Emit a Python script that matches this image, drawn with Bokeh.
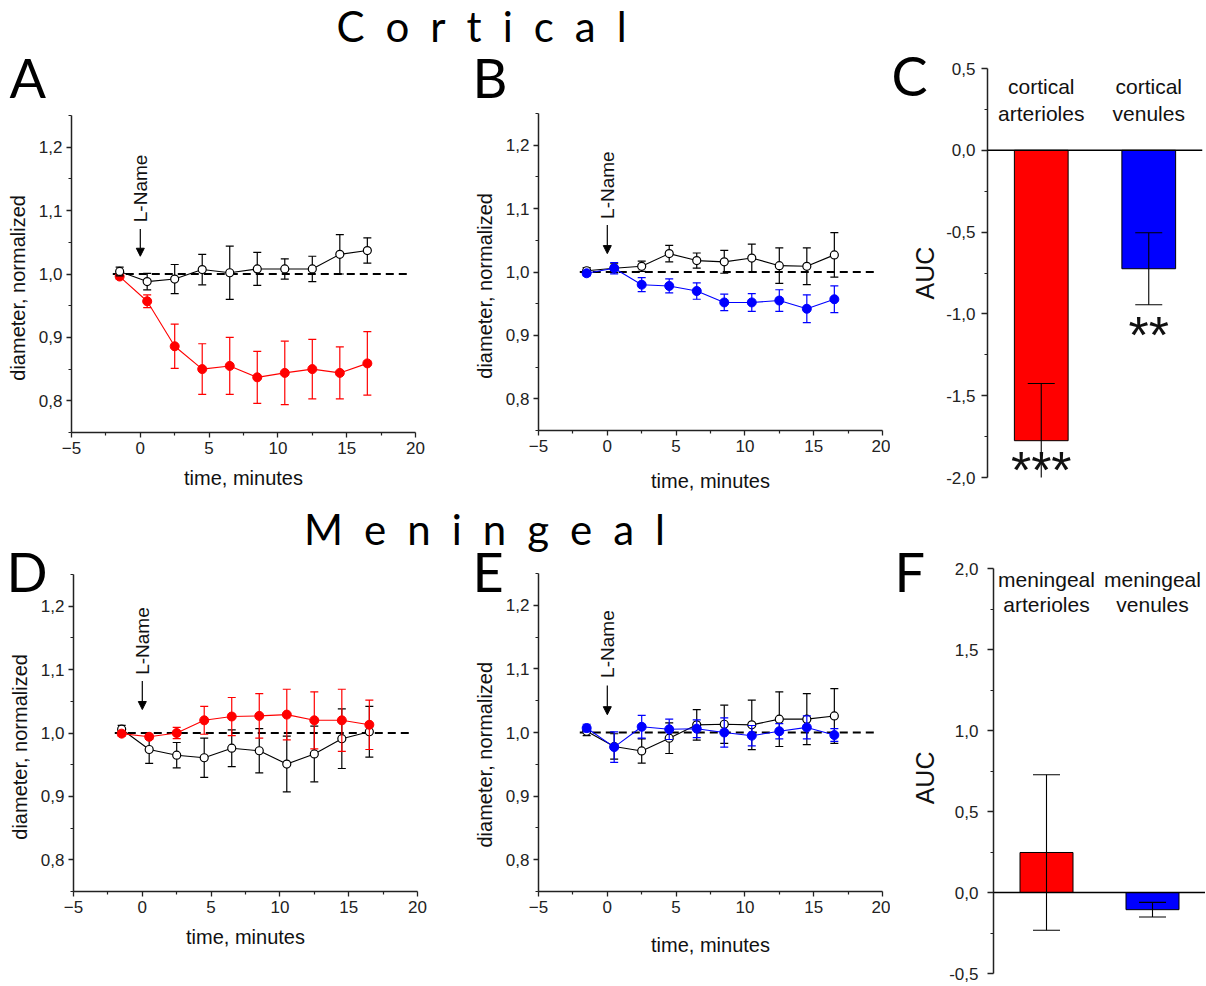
from bokeh.plotting import figure
from bokeh.models import (Range1d, Arrow, NormalHead, Span, FixedTicker,
                          CustomJSTickFormatter, GridBox)
from bokeh.layouts import column, row
from bokeh.embed import file_html
from bokeh.resources import INLINE
from bokeh.core.properties import value

# ---------------- data ----------------
time = [-1.5, 0.5, 2.5, 4.5, 6.5, 8.5, 10.5, 12.5, 14.5, 16.5]

A_ctrl = [1.004, 0.988, 0.992, 1.007, 1.002, 1.008, 1.008, 1.008, 1.031, 1.037]
A_ctrl_err = [0.007, 0.013, 0.023, 0.024, 0.042, 0.026, 0.016, 0.020, 0.031, 0.020]
A_lname = [0.996, 0.957, 0.886, 0.850, 0.855, 0.837, 0.844, 0.850, 0.844, 0.859]
A_lname_err = [0.004, 0.010, 0.035, 0.040, 0.045, 0.041, 0.050, 0.047, 0.041, 0.050]

B_ctrl = [1.002, 1.006, 1.009, 1.029, 1.018, 1.016, 1.022, 1.010, 1.009, 1.027]
B_ctrl_err = [0.005, 0.007, 0.008, 0.013, 0.012, 0.018, 0.022, 0.028, 0.029, 0.035]
B_lname = [0.998, 1.006, 0.980, 0.978, 0.970, 0.952, 0.952, 0.955, 0.942, 0.957]
B_lname_err = [0.004, 0.009, 0.011, 0.011, 0.013, 0.013, 0.014, 0.017, 0.022, 0.021]

D_ctrl = [1.006, 0.974, 0.965, 0.961, 0.976, 0.972, 0.951, 0.967, 0.991, 1.002]
D_ctrl_err = [0.006, 0.022, 0.020, 0.031, 0.029, 0.035, 0.044, 0.044, 0.047, 0.040]
D_lname = [0.999, 0.994, 1.000, 1.020, 1.026, 1.027, 1.029, 1.020, 1.020, 1.013]
D_lname_err = [0.004, 0.004, 0.009, 0.022, 0.030, 0.035, 0.040, 0.045, 0.049, 0.039]

E_ctrl = [1.002, 0.978, 0.971, 0.991, 1.012, 1.013, 1.012, 1.021, 1.021, 1.026]
E_ctrl_err = [0.007, 0.020, 0.019, 0.024, 0.024, 0.030, 0.039, 0.043, 0.040, 0.043]
E_lname = [1.007, 0.977, 1.009, 1.005, 1.006, 1.000, 0.995, 1.002, 1.008, 0.996]
E_lname_err = [0.006, 0.024, 0.018, 0.016, 0.014, 0.023, 0.016, 0.012, 0.018, 0.010]

bar_x = [1, 2]
C_label_top = ["cortical", "cortical"]
C_label_bottom = ["arterioles", "venules"]
C_auc = [-1.775, -0.724]
C_err = [0.35, 0.22]
C_stars = ["***", "**"]

F_label_top = ["meningeal", "meningeal"]
F_label_bottom = ["arterioles", "venules"]
F_auc = [0.247, -0.106]
F_err = [0.48, 0.045]

bar_colors = ["#FF0000", "#0000FF"]

section_titles = ["Cortical", "Meningeal"]
panel_letters = ["A", "B", "C", "D", "E", "F"]

time_ticks = [-5, 0, 5, 10, 15, 20]
time_minor = [-2.5, 2.5, 7.5, 12.5, 17.5]
diam_ticks = [0.8, 0.9, 1.0, 1.1, 1.2]
diam_minor = [0.75, 0.85, 0.95, 1.05, 1.15, 1.25]
C_ticks = [0.5, 0.0, -0.5, -1.0, -1.5, -2.0]
C_minor = [0.25, -0.25, -0.75, -1.25, -1.75]
F_ticks = [-0.5, 0.0, 0.5, 1.0, 1.5, 2.0]
F_minor = [-0.25, 0.25, 0.75, 1.25, 1.75]

# ---------------- layout / style constants ----------------
PAGE_W, PAGE_H = 1205, 985
FONT = "Liberation Sans"
LETTER_FONT = "Lato"
TICK_SIZE = "17px"
AXIS_LABEL_SIZE = "20px"
NB = "\u00a0"
comma_fmt = CustomJSTickFormatter(code="return tick.toFixed(1).replace('.', ',');")


def style_axis(ax, label_standoff):
    ax.axis_line_color = "#222222"
    ax.axis_line_width = 1.5
    ax.major_tick_line_color = "#222222"
    ax.minor_tick_line_color = "#222222"
    ax.major_tick_line_width = 1.3
    ax.minor_tick_line_width = 1.2
    ax.major_tick_out = 5
    ax.major_tick_in = 0
    ax.minor_tick_out = 3
    ax.minor_tick_in = 0
    ax.major_label_text_font = FONT
    ax.major_label_text_font_size = TICK_SIZE
    ax.major_label_text_color = "#222222"
    ax.major_label_standoff = 4
    ax.axis_label_text_font = FONT
    ax.axis_label_text_font_size = AXIS_LABEL_SIZE
    ax.axis_label_text_font_style = "normal"
    ax.axis_label_text_color = "#111111"
    ax.axis_label_standoff = label_standoff


def base_fig(w, h, bl, br, bt, bb, xr, yr, **kw):
    p = figure(width=w, height=h, x_range=xr, y_range=yr,
               output_backend="svg", toolbar_location=None,
               min_border_left=bl, min_border_right=br,
               min_border_top=bt, min_border_bottom=bb,
               frame_align=False, **kw)
    p.outline_line_color = None
    p.background_fill_color = "white"
    p.border_fill_color = "white"
    return p


def series(p, y, err, color, filled):
    lower = [v - e for v, e in zip(y, err)]
    upper = [v + e for v, e in zip(y, err)]
    p.segment(x0=time, y0=lower, x1=time, y1=upper, line_color=color, line_width=1.2)
    p.scatter(time, upper, marker="dash", size=8, line_color=color, line_width=1.2)
    p.scatter(time, lower, marker="dash", size=8, line_color=color, line_width=1.2)
    p.line(time, y, line_color=color, line_width=1.1)
    if filled:
        p.scatter(time, y, marker="circle", size=9, fill_color=color, line_color=color)
    else:
        p.scatter(time, y, marker="circle", size=8, fill_color="white",
                  line_color="black", line_width=1.2)


def ts_panel(w, h, bl, br, bt, bb, ctrl, ctrl_err, ln, ln_err, color, xstand,
             lname_y, arrow_top, arrow_tip, first_filled, label_pad):
    p = base_fig(w, h, bl, br, bt, bb, Range1d(-5, 20), Range1d(0.75, 1.25))
    p.xgrid.visible = False
    p.ygrid.visible = False
    p.xaxis.ticker = FixedTicker(ticks=time_ticks, minor_ticks=time_minor)
    p.yaxis.ticker = FixedTicker(ticks=diam_ticks, minor_ticks=diam_minor)
    p.yaxis.formatter = comma_fmt
    p.xaxis.axis_label = "time, minutes"
    p.yaxis.axis_label = "diameter, normalized" + NB * label_pad
    style_axis(p.xaxis[0], xstand)
    style_axis(p.yaxis[0], 7)
    p.line([-2.0, 19.5], [1.0, 1.0], line_color="black", line_width=2, line_dash="8 5")
    if first_filled:
        series(p, ln, ln_err, color, True)
        series(p, ctrl, ctrl_err, "black", False)
    else:
        series(p, ctrl, ctrl_err, "black", False)
        series(p, ln, ln_err, color, True)
    p.add_layout(Arrow(end=NormalHead(size=8, fill_color="black", line_color="black"),
                       x_start=0, y_start=arrow_top, x_end=0, y_end=arrow_tip,
                       line_width=1.2, line_color="black"))
    p.text(x=[0], y=[lname_y], text=["L-Name"], angle=1.5708,
           text_font=value(FONT), text_font_size="19px", text_align="center",
           text_baseline="middle", text_color="#111111")
    return p


def bar_panel(w, h, bl, br, bt, bb, yr, ticks, minor, auc, err, top_lbl, bot_lbl,
              top_y, bot_y, tick_stand, lab_stand, label_pad):
    p = base_fig(w, h, bl, br, bt, bb, Range1d(0.5, 2.5), yr, x_axis_type=None)
    p.ygrid.visible = False
    p.yaxis.ticker = FixedTicker(ticks=ticks, minor_ticks=minor)
    p.yaxis.formatter = comma_fmt
    p.yaxis.axis_label = "AUC" + NB * label_pad
    style_axis(p.yaxis[0], lab_stand)
    p.yaxis.major_tick_out = 6
    p.yaxis.major_label_standoff = tick_stand
    p.yaxis.axis_label_text_font_size = "25px"
    p.vbar(x=bar_x, top=auc, bottom=0, width=0.5, fill_color=bar_colors,
           line_color="black", line_width=1)
    p.add_layout(Span(location=0, dimension="width", line_color="black", line_width=1.5))
    lower = [v - e for v, e in zip(auc, err)]
    upper = [v + e for v, e in zip(auc, err)]
    p.segment(x0=bar_x, y0=lower, x1=bar_x, y1=upper, line_color="black", line_width=1.1)
    p.scatter(bar_x, upper, marker="dash", size=27, line_color="black", line_width=1.1)
    p.scatter(bar_x, lower, marker="dash", size=27, line_color="black", line_width=1.1)
    p.text(x=bar_x, y=[top_y] * 2, text=top_lbl, text_font=value(FONT),
           text_font_size="21px", text_align="center", text_baseline="middle",
           text_color="#111111")
    p.text(x=bar_x, y=[bot_y] * 2, text=bot_lbl, text_font=value(FONT),
           text_font_size="21px", text_align="center", text_baseline="middle",
           text_color="#111111")
    return p


# ---------------- row 1 (y 0..505) ----------------
pA = ts_panel(470, 505, 71, 55, 115, 73, A_ctrl, A_ctrl_err, A_lname, A_lname_err,
              "#FF0000", 10, 1.135, 1.071, 1.028, True, 5)
pB = ts_panel(420, 505, 68, 8, 113, 75, B_ctrl, B_ctrl_err, B_lname, B_lname_err,
              "#0000FF", 15, 1.137, 1.074, 1.029, False, 5)
pC = bar_panel(315, 505, 97, 3, 68, 28, Range1d(-2.0, 0.5), C_ticks, C_minor,
               C_auc, C_err, C_label_top, C_label_bottom, 0.387, 0.225, 6, 4, 0)
pC.text(x=bar_x, y=[-1.955, -1.13], text=C_stars, text_font=value(FONT),
        text_font_size="52px", text_align="center",
        text_baseline="middle", text_color="#111111")

# ---------------- row 2 (y 505..985) ----------------
pD = ts_panel(470, 480, 73, 53, 69, 94, D_ctrl, D_ctrl_err, D_lname, D_lname_err,
              "#FF0000", 10, 1.145, 1.082, 1.037, False, 5)
pE = ts_panel(420, 480, 68, 8, 68, 94, E_ctrl, E_ctrl_err, E_lname, E_lname_err,
              "#0000FF", 18, 1.139, 1.074, 1.028, False, 8)
pF = bar_panel(315, 480, 103, 0, 63, 12, Range1d(-0.5, 2.0), F_ticks, F_minor,
               F_auc, F_err, F_label_top, F_label_bottom, 1.933, 1.78, 9, 7, 2)

main = column(row(pA, pB, pC), row(pD, pE, pF))

# ---------------- transparent overlay for titles and panel letters ----------------
ov = figure(width=PAGE_W, height=PAGE_H, x_range=Range1d(0, PAGE_W),
            y_range=Range1d(PAGE_H, 0), x_axis_type=None, y_axis_type=None,
            output_backend="svg", toolbar_location=None, min_border=0,
            frame_align=False)
ov.outline_line_color = None
ov.background_fill_alpha = 0
ov.border_fill_alpha = 0
ov.xgrid.visible = False
ov.ygrid.visible = False

SP = "\u2002"
TITLE_SIZE = 42
ov.text(x=[481, 484], y=[42 - 0.387 * TITLE_SIZE, 545 - 0.387 * TITLE_SIZE],
        text=[SP.join(t) for t in section_titles], text_font=value(LETTER_FONT),
        text_font_size=f"{TITLE_SIZE}px", text_align="center", text_baseline="middle",
        text_color="black")
LETTER_SIZE = 54
letter_x = [9, 472, 891, 6, 472, 894]
letter_base = [98, 98, 96, 592, 592, 592]
ov.text(x=letter_x, y=[b - 0.387 * LETTER_SIZE for b in letter_base],
        text=panel_letters, text_font=value(LETTER_FONT),
        text_font_size=f"{LETTER_SIZE}px", text_align="left", text_baseline="middle",
        text_color="black")

page = GridBox(children=[(main, 0, 0), (ov, 0, 0)])

with open("out.html", "w") as f:
    f.write(file_html(page, INLINE))
